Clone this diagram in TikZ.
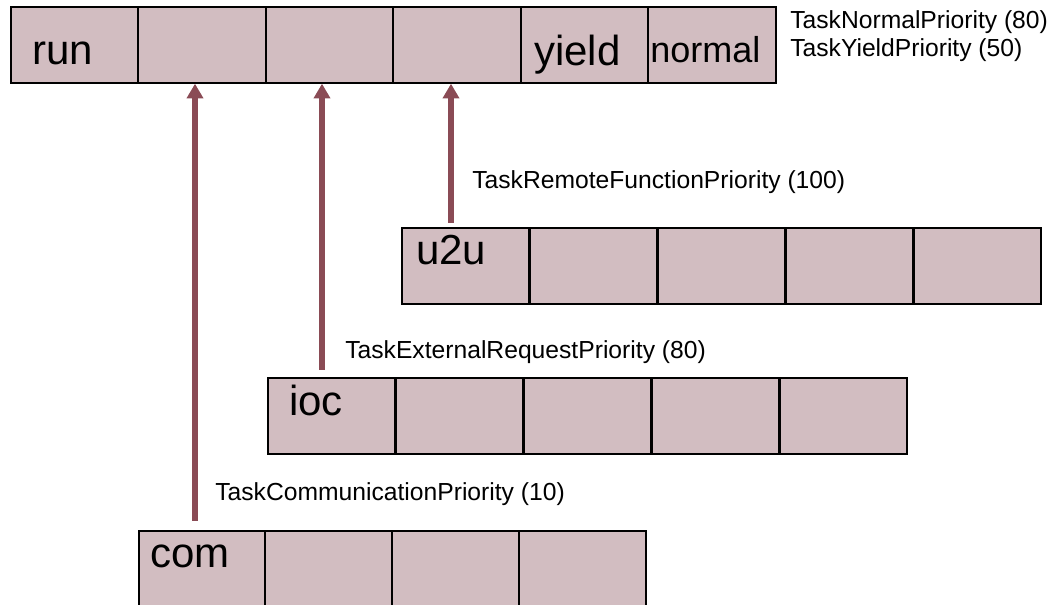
\documentclass[tikz,border=0pt]{standalone}
\usepackage{fontspec}
\setmainfont{Liberation Sans}
\usepackage{tikz}
\usetikzlibrary{arrows.meta}

\definecolor{cellfill}{RGB}{210,189,193}
\definecolor{arrowred}{RGB}{138,75,85}

\tikzset{
  cell/.style={draw=black, line width=1.3pt, fill=cellfill, anchor=north west,
    inner sep=0pt, minimum width=95.6pt, minimum height=57pt},
  qname/.style={anchor=base west, inner sep=0pt, font=\fontsize{31.5}{32}\selectfont},
  prio/.style={anchor=base west, inner sep=0pt, font=\fontsize{18.5}{20}\selectfont},
  feed/.style={draw=arrowred, line width=3.8pt, -{Triangle[width=12pt,length=11pt]}}
}

\begin{document}
\begin{tikzpicture}[x=0.75pt, y=-0.75pt]
      \useasboundingbox (0,0) rectangle (1057,605);
      % run queue
      \node[cell] (r1) at (10,6) {};
      \node[cell] (r2) at (137.5,6) {};
      \node[cell] (r3) at (265,6) {};
      \node[cell] (r4) at (392.5,6) {};
      \node[cell] (r5) at (520,6) {};
      \node[cell] (r6) at (647.5,6) {};
      \node[qname] (run) at (32,65) {run};
      \node[qname] (yield) at (534,66) {yield};
      \node[qname, font=\fontsize{27}{28}\selectfont] (normal) at (650,63) {normal};
      \node[prio] (pnormal) at (790,29) {TaskNormalPriority (80)};
      \node[prio] (pyield) at (790,57) {TaskYieldPriority (50)};
      % u2u queue
      \node[cell] (u1) at (401,227) {};
      \node[cell] (u2) at (529,227) {};
      \node[cell] (u3) at (657,227) {};
      \node[cell] (u4) at (785,227) {};
      \node[cell] (u5) at (913,227) {};
      \node[qname] (u2u) at (416,265) {u2u};
      \node[prio] (premote) at (472,189) {TaskRemoteFunctionPriority (100)};
      % ioc queue
      \node[cell] (i1) at (267,377) {};
      \node[cell] (i2) at (395,377) {};
      \node[cell] (i3) at (523,377) {};
      \node[cell] (i4) at (651,377) {};
      \node[cell] (i5) at (779,377) {};
      \node[qname] (ioc) at (289,416) {ioc};
      \node[prio] (pext) at (345,359) {TaskExternalRequestPriority (80)};
      % com queue
      \node[cell] (c1) at (138,530) {};
      \node[cell] (c2) at (264,530) {};
      \node[cell] (c3) at (391,530) {};
      \node[cell] (c4) at (518,530) {};
      \node[qname] (com) at (150,568) {com};
      \node[prio] (pcom) at (215,501) {TaskCommunicationPriority (10)};
      % feeds into run queue
      \coordinate (a1) at (195,521);
      \coordinate (a2) at (322,370);
      \coordinate (a3) at (451,223);
      \draw[feed] (a1) -- (a1 |- r2.south);
      \draw[feed] (a2) -- (a2 |- r3.south);
      \draw[feed] (a3) -- (a3 |- r4.south);
    \end{tikzpicture}
\end{document}
